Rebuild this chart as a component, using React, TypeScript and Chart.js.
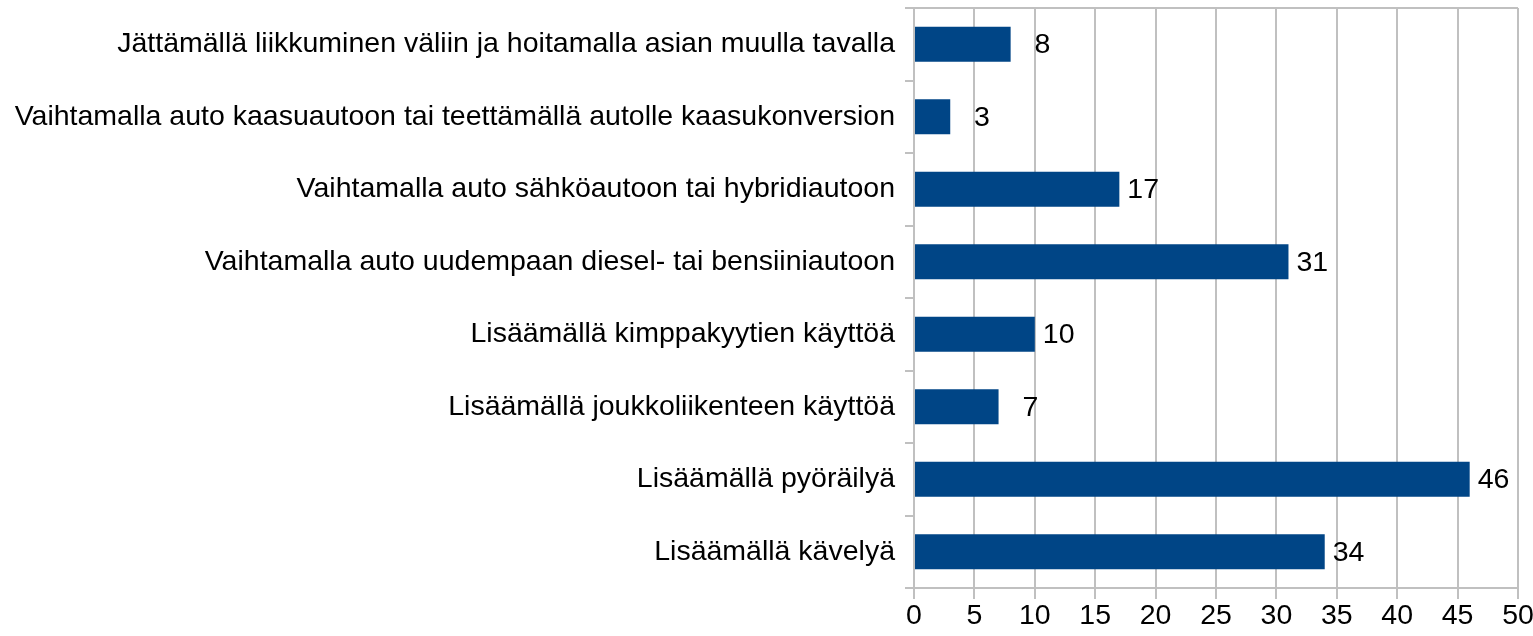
import React, { useEffect, useRef } from "react";
import { Chart, registerables } from "chart.js";

Chart.register(...registerables);

const categories = [
  "Jättämällä liikkuminen väliin ja hoitamalla asian muulla tavalla",
  "Vaihtamalla auto kaasuautoon tai teettämällä autolle kaasukonversion",
  "Vaihtamalla auto sähköautoon tai hybridiautoon",
  "Vaihtamalla auto uudempaan diesel- tai bensiiniautoon",
  "Lisäämällä kimppakyytien käyttöä",
  "Lisäämällä joukkoliikenteen käyttöä",
  "Lisäämällä pyöräilyä",
  "Lisäämällä kävelyä",
];
const values = [8, 3, 17, 31, 10, 7, 46, 34];
const xMin = 0;
const xMax = 50;
const xStep = 5;

const FONT = "'Liberation Sans', Arial, sans-serif";
const FS = 28.5;
const GRID = "#c0c0c0";

const valueLabels = {
  id: "valueLabels",
  afterDatasetsDraw(chart: any) {
    const ctx = chart.ctx;
    const meta = chart.getDatasetMeta(0);
    ctx.save();
    ctx.font = `${FS}px ${FONT}`;
    ctx.fillStyle = "#000";
    ctx.textAlign = "right";
    ctx.textBaseline = "middle";
    const slot = ctx.measureText("00").width;
    meta.data.forEach((bar: any, i: number) => {
      ctx.fillText(String(values[i]), bar.x + 8 + slot, bar.y + 1);
    });
    ctx.restore();
  },
};

export default function App() {
  const ref = useRef<HTMLCanvasElement | null>(null);
  useEffect(() => {
    if (!ref.current) return;
    const chart = new Chart(ref.current, {
      type: "bar",
      data: {
        labels: categories,
        datasets: [
          {
            data: values,
            backgroundColor: "#004586",
            categoryPercentage: 0.48,
            barPercentage: 1,
          },
        ],
      },
      options: {
        indexAxis: "y",
        animation: false,
        responsive: false,
        maintainAspectRatio: false,
        layout: { padding: { top: 8, right: 15, bottom: 0, left: 0 } },
        plugins: { legend: { display: false }, tooltip: { enabled: false } },
        scales: {
          x: {
            min: xMin,
            max: xMax,
            ticks: {
              stepSize: xStep,
              color: "#000",
              font: { family: FONT, size: FS },
              padding: 0,
            },
            grid: {
              color: GRID,
              lineWidth: 2,
              tickLength: 11,
              tickColor: GRID,
            },
            border: { color: GRID, width: 2 },
            afterFit: (scale: any) => {
              scale.paddingLeft = 0;
              scale.paddingRight = 0;
              scale.height = 636 - 588;
            },
          },
          y: {
            ticks: {
              color: "#000",
              font: { family: FONT, size: FS },
              padding: 10,
            },
            grid: {
              offset: true,
              drawOnChartArea: true,
              color: (c: any) => (c.index === 0 ? GRID : "rgba(0,0,0,0)"),
              lineWidth: 2,
              tickLength: 9,
              tickColor: GRID,
            },
            border: { color: GRID, width: 2 },
            afterFit: (scale: any) => {
              scale.width = 914;
              scale.paddingTop = 0;
              scale.paddingBottom = 0;
            },
          },
        },
      },
      plugins: [valueLabels],
    });
    return () => chart.destroy();
  }, []);
  return (
    <div style={{ position: "fixed", left: 0, top: 0, width: 1533, height: 636, background: "#fff" }}>
      <canvas ref={ref} width={1533} height={636} style={{ width: 1533, height: 636 }} />
    </div>
  );
}
